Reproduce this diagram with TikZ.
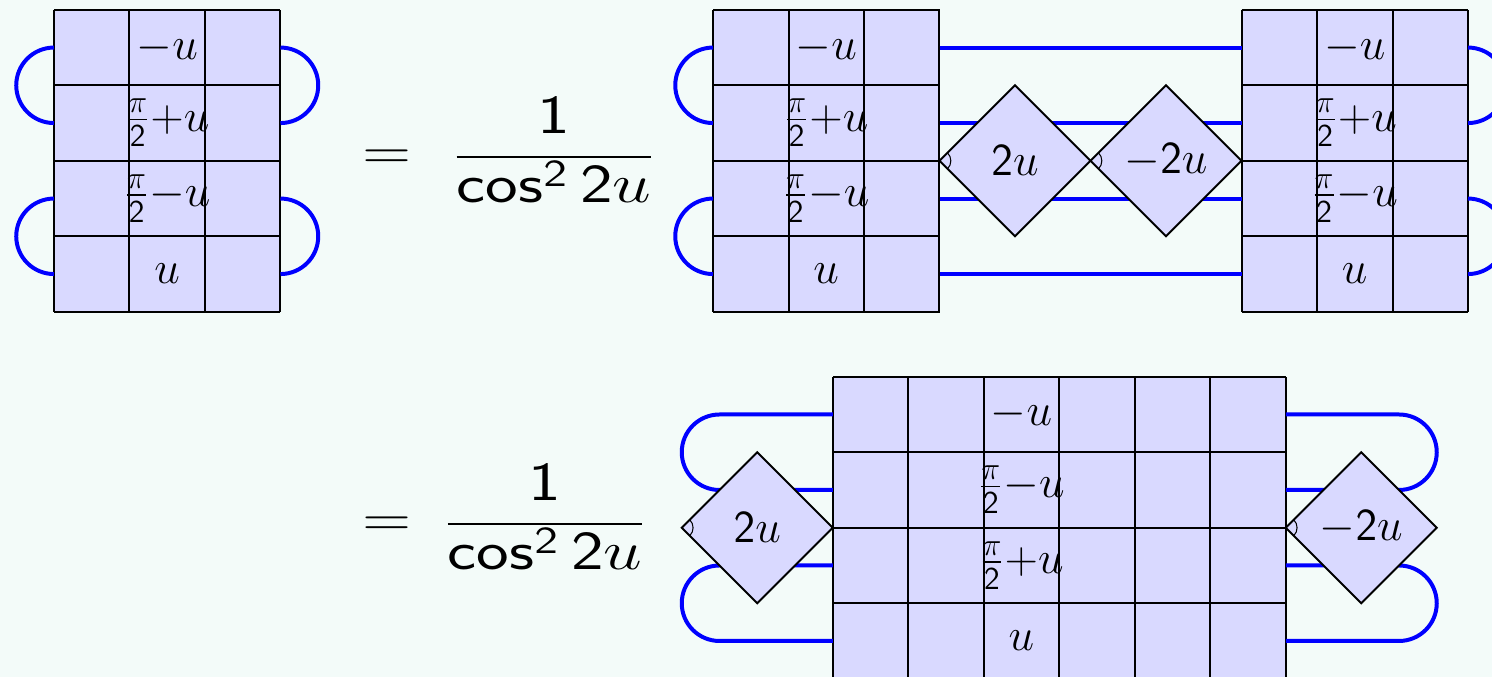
\documentclass[tikz,border=0pt]{standalone}
\usepackage{amsmath}
\usepackage{mathtools}
\usepackage{graphicx}
\usetikzlibrary{shapes.geometric}
\SetSymbolFont{operators}{normal}{OT1}{cmss}{m}{n}
\definecolor{bg}{RGB}{243,251,249}
\definecolor{cellfill}{RGB}{217,217,255}
\newcommand{\eqsign}{\scalebox{1.22}[1]{$=$}}
\newcommand{\coefrac}{\scalebox{1.26}[1]{$\dfrac{1}{\raisebox{2.2pt}{\smash{$\cramped{\cos^2 2u}$}}}$}}
\begin{document}
\begin{tikzpicture}[x=1cm,y=-1cm,
  cellgrid/.style={draw=black, line width=0.75pt},
  wire/.style={draw=blue, line width=1.5pt},
  dia/.style={diamond, draw=black, fill=cellfill, line width=0.75pt, minimum size=2cm, inner sep=0pt, outer sep=0pt, font=\LARGE},
  anglemark/.style={draw=black, line width=0.4pt},
  lab/.style={inner sep=0pt, font=\LARGE},
  eqn/.style={inner sep=0pt, anchor=base, font=\huge}]
\fill[bg] (0,0) rectangle (19.762,8.967);
\useasboundingbox (0,0) rectangle (19.762,8.967);

% connection coordinates
\foreach \r in {1,...,4} {
  \coordinate (A-l\r) at (0.715, {0.13+\r-0.5});
  \coordinate (A-r\r) at (3.715, {0.13+\r-0.5});
  \coordinate (B-l\r) at (9.444, {0.13+\r-0.5});
  \coordinate (B-r\r) at (12.444, {0.13+\r-0.5});
  \coordinate (C-l\r) at (16.444, {0.13+\r-0.5});
  \coordinate (C-r\r) at (19.444, {0.13+\r-0.5});
  \coordinate (D-l\r) at (11.03, {4.99+\r-0.5});
  \coordinate (D-r\r) at (17.03, {4.99+\r-0.5});
}

% grids
\foreach \gx/\gy/\gc in {0.715/0.13/3, 9.444/0.13/3, 16.444/0.13/3, 11.03/4.99/6} {
  \begin{scope}[shift={(\gx,\gy)}]
    \fill[cellfill] (0,0) rectangle (\gc,4);
    \draw[cellgrid] (0,0) grid (\gc,4);
  \end{scope}
}

% loops row 1
\draw[wire] (A-l1) arc[start angle=-90, end angle=-270, radius=0.5];
\draw[wire] (A-l3) arc[start angle=-90, end angle=-270, radius=0.5];
\draw[wire] (A-r1) arc[start angle=-90, end angle=90, radius=0.5];
\draw[wire] (A-r3) arc[start angle=-90, end angle=90, radius=0.5];
\draw[wire] (B-l1) arc[start angle=-90, end angle=-270, radius=0.5];
\draw[wire] (B-l3) arc[start angle=-90, end angle=-270, radius=0.5];
\draw[wire] (C-r1) arc[start angle=-90, end angle=90, radius=0.5];
\draw[wire] (C-r3) arc[start angle=-90, end angle=90, radius=0.5];
\foreach \r in {1,...,4} { \draw[wire] (B-r\r) -- (C-l\r); }

% loops row 2
\draw[wire] (D-l1) -- ++(-1.5,0) arc[start angle=-90, end angle=-270, radius=0.5] -- (D-l2);
\draw[wire] (D-l3) -- ++(-1.5,0) arc[start angle=-90, end angle=-270, radius=0.5] -- (D-l4);
\draw[wire] (D-r1) -- ++(1.5,0) arc[start angle=-90, end angle=90, radius=0.5] -- (D-r2);
\draw[wire] (D-r3) -- ++(1.5,0) arc[start angle=-90, end angle=90, radius=0.5] -- (D-r4);

% diamonds
\node[dia] (d1) at (13.444,2.13) {$2u$};
\node[dia] (d2) at (15.444,2.13) {$-2u$};
\node[dia] (d3) at (10.03,6.99) {$2u$};
\node[dia] (d4) at (18.03,6.99) {$-2u$};
\foreach \d in {d1,d2,d3,d4} {
  \draw[anglemark] ([shift={(-45:0.15cm)}]\d.west) arc[start angle=-45, end angle=45, radius=0.15cm];
}

% cell labels
\foreach \g/\x in {A/2.215, B/10.944, C/17.944} {
  \node[lab] (\g-t1) at (\x,0.63) {$-u$};
  \node[lab] (\g-t2) at (\x,1.63) {$\frac{\pi}{2}{+}u$};
  \node[lab] (\g-t3) at (\x,2.63) {$\frac{\pi}{2}{-}u$};
  \node[lab] (\g-t4) at (\x,3.63) {$u$};
}
\node[lab] (D-t1) at (13.53,5.49) {$-u$};
\node[lab] (D-t2) at (13.53,6.49) {$\frac{\pi}{2}{-}u$};
\node[lab] (D-t3) at (13.53,7.49) {$\frac{\pi}{2}{+}u$};
\node[lab] (D-t4) at (13.53,8.49) {$u$};

% equations
\node[eqn] (eq1) at (5.126,2.24) {\eqsign};
\node[eqn] (fr1) at (7.338,2.258) {\coefrac};
\node[eqn] (eq2) at (5.126,7.10) {\eqsign};
\node[eqn] (fr2) at (7.22,7.12) {\coefrac};
\end{tikzpicture}
\end{document}
